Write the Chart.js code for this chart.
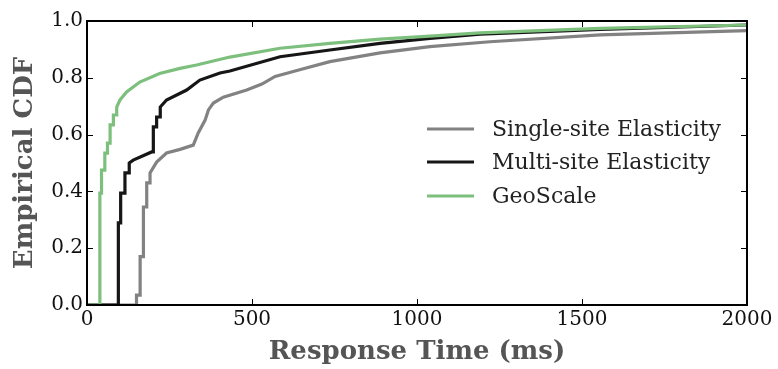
<!DOCTYPE html>
<html>
<head>
<meta charset="utf-8">
<script src="https://cdn.jsdelivr.net/npm/chart.js@4/dist/chart.umd.min.js"></script>
<style>
  html, body { margin: 0; padding: 0; background: #fff; }
  #wrap { width: 778px; height: 369px; }
</style>
</head>
<body>
<div id="wrap"><canvas id="c" width="778" height="369"></canvas></div>
<script>
// ---- Data ----
const seriesLabels = ['Single-site Elasticity', 'Multi-site Elasticity', 'GeoScale'];
const seriesColors = ['#828282', '#161616', '#7dbf7d'];

// Response time (ms) and empirical CDF values; repeated x values form the step jumps
const singleX = [0, 150, 150, 161, 161, 171, 171, 181, 181, 191, 191, 211, 241, 282, 322, 337, 358, 368, 383, 413, 484, 530, 570, 650, 736, 888, 1039, 1221, 1555, 2000];
const singleY = [0, 0, 0.035, 0.035, 0.17, 0.17, 0.345, 0.345, 0.43, 0.43, 0.465, 0.503, 0.535, 0.548, 0.563, 0.606, 0.651, 0.687, 0.711, 0.732, 0.757, 0.778, 0.805, 0.83, 0.857, 0.888, 0.91, 0.927, 0.951, 0.966];

const multiX = [0, 95, 95, 102, 102, 115, 115, 128, 128, 140, 196, 201, 201, 211, 211, 222, 222, 241, 302, 342, 403, 433, 585, 736, 888, 1039, 1191, 1555, 2000];
const multiY = [0, 0, 0.289, 0.289, 0.394, 0.394, 0.465, 0.465, 0.50, 0.51, 0.539, 0.539, 0.627, 0.627, 0.662, 0.662, 0.697, 0.722, 0.757, 0.792, 0.817, 0.824, 0.874, 0.898, 0.921, 0.939, 0.954, 0.970, 0.986];

const geoX = [0, 39, 39, 44, 44, 54, 54, 62, 62, 70, 70, 80, 80, 90, 90, 100, 120, 160, 220, 282, 332, 433, 585, 736, 888, 1039, 1191, 1555, 2000];
const geoY = [0, 0, 0.394, 0.394, 0.475, 0.475, 0.535, 0.535, 0.57, 0.57, 0.634, 0.634, 0.669, 0.669, 0.697, 0.722, 0.75, 0.785, 0.815, 0.833, 0.845, 0.873, 0.904, 0.921, 0.936, 0.947, 0.958, 0.974, 0.986];

const xTicks = [0, 500, 1000, 1500, 2000];
const yTicks = [0.0, 0.2, 0.4, 0.6, 0.8, 1.0];
const xTitle = 'Response Time (ms)';
const yTitle = 'Empirical CDF';

// ---- Build ----
function pts(xs, ys) { return xs.map((x, i) => ({ x: x, y: ys[i] })); }
const allX = [singleX, multiX, geoX];
const allY = [singleY, multiY, geoY];

const datasets = seriesLabels.map((lab, i) => ({
  label: lab,
  data: pts(allX[i], allY[i]),
  borderColor: seriesColors[i],
  backgroundColor: seriesColors[i],
  borderWidth: 3.2,
  pointRadius: 0,
  tension: 0,
  fill: false,
  order: 3 - i
}));

const FONT = "'DejaVu Serif', serif";

const framePlugin = {
  id: 'frame',
  afterDatasetsDraw(chart) {
    const { ctx, chartArea: a, scales } = chart;
    ctx.save();
    // inward ticks
    ctx.strokeStyle = '#000';
    ctx.lineWidth = 1;
    const L = 6;
    xTicks.forEach(v => {
      const px = Math.round(scales.x.getPixelForValue(v)) + 0.5;
      ctx.beginPath();
      ctx.moveTo(px, a.bottom); ctx.lineTo(px, a.bottom - L);
      ctx.moveTo(px, a.top); ctx.lineTo(px, a.top + L);
      ctx.stroke();
    });
    yTicks.forEach(v => {
      const py = Math.round(scales.y.getPixelForValue(v)) + 0.5;
      ctx.beginPath();
      ctx.moveTo(a.left, py); ctx.lineTo(a.left + L, py);
      ctx.moveTo(a.right, py); ctx.lineTo(a.right - L, py);
      ctx.stroke();
    });
    // frame
    ctx.lineWidth = 2;
    ctx.strokeStyle = '#000';
    ctx.strokeRect(a.left, a.top, a.right - a.left, a.bottom - a.top);

    // legend
    const lx0 = 427, lx1 = 474, tx = 492;
    const ly = [129, 162, 196];
    ctx.font = '22px ' + FONT;
    ctx.textBaseline = 'middle';
    ctx.textAlign = 'left';
    chart.data.datasets.forEach((ds, i) => {
      ctx.strokeStyle = ds.borderColor;
      ctx.lineWidth = 3.2;
      ctx.beginPath();
      ctx.moveTo(lx0, ly[i]); ctx.lineTo(lx1, ly[i]);
      ctx.stroke();
      ctx.fillStyle = '#222';
      ctx.fillText(ds.label, tx, ly[i] + 1);
    });
    ctx.restore();
  }
};

new Chart(document.getElementById('c'), {
  type: 'line',
  data: { datasets },
  options: {
    responsive: false,
    devicePixelRatio: 1,
    animation: false,
    layout: { padding: { left: 10, right: 31, top: 21, bottom: 0 } },
    plugins: { legend: { display: false }, tooltip: { enabled: false } },
    scales: {
      x: {
        type: 'linear', min: 0, max: 2000,
        afterBuildTicks(s) { s.ticks = xTicks.map(v => ({ value: v })); },
        afterFit(s) { s.height = 64; },
        grid: { display: false, drawTicks: false },
        border: { display: false },
        ticks: { color: '#111', font: { family: FONT, size: 20 }, padding: 3, maxRotation: 0, callback: v => String(v) },
        title: { display: true, text: xTitle, color: '#555', font: { family: FONT, size: 26, weight: 'bold' }, padding: { top: 0, bottom: 1 } }
      },
      y: {
        type: 'linear', min: 0, max: 1,
        afterBuildTicks(s) { s.ticks = yTicks.map(v => ({ value: v })); },
        afterFit(s) { s.width = 77; },
        grid: { display: false, drawTicks: false },
        border: { display: false },
        ticks: { color: '#111', font: { family: FONT, size: 20 }, padding: 4, callback: v => Number(v).toFixed(1) },
        title: { display: true, text: yTitle, color: '#555', font: { family: FONT, size: 26, weight: 'bold' }, padding: { top: 0, bottom: 0 } }
      }
    }
  },
  plugins: [framePlugin]
});
</script>
</body>
</html>
